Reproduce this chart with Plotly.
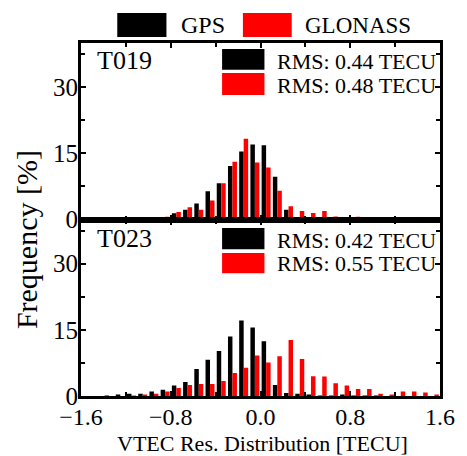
import plotly.graph_objects as go
from plotly.subplots import make_subplots

# ---------------- data ----------------
bins = [-1.55, -1.45, -1.35, -1.25, -1.15, -1.05, -0.95, -0.85, -0.75, -0.65,
        -0.55, -0.45, -0.35, -0.25, -0.15, -0.05, 0.05, 0.15, 0.25, 0.35,
        0.45, 0.55, 0.65, 0.75, 0.85, 0.95, 1.05, 1.15, 1.25, 1.35, 1.45, 1.55]

t019_gps = [0, 0, 0, 0.05, 0.1, 0.1, 0.2, 0.5, 1.4, 2.2,
            3.6, 6.4, 8.2, 12.1, 15.4, 17.0, 16.8, 9.7, 2.2, 0.3,
            0.1, 0.05, 0, 0, 0, 0, 0, 0, 0, 0, 0, 0]
t019_glonass = [0, 0, 0.05, 0.1, 0.2, 0.3, 0.3, 0.6, 1.7, 2.8,
                2.2, 4.3, 8.2, 13.1, 18.3, 12.9, 11.8, 6.5, 3.0, 1.9,
                1.5, 1.9, 0.7, 0.4, 0.6, 0.5, 0.3, 0.1, 0.05, 0, 0, 0]

t023_gps = [0, 0, 0.1, 0.2, 0.5, 0.5, 1.0, 1.4, 2.4, 3.2,
            6.1, 8.2, 10.2, 13.5, 17.1, 15.5, 12.4, 2.5, 0.7, 0.5,
            0.3, 0.1, 0.1, 0.2, 0.1, 0.05, 0.05, 0, 0, 0, 0, 0]
t023_glonass = [0, 0, 0, 0, 0.1, 0.2, 0.5, 1.0, 1.8, 2.5,
                2.7, 2.7, 3.4, 5.2, 6.4, 9.2, 7.6, 9.0, 12.7, 8.4,
                4.5, 4.4, 2.9, 2.4, 1.6, 1.6, 0.5, 0.3, 1.0, 1.0, 0.8, 0.3]

stations = ["T019", "T023"]
rms_gps = ["RMS: 0.44 TECU", "RMS: 0.42 TECU"]
rms_glonass = ["RMS: 0.48 TECU", "RMS: 0.55 TECU"]
series_names = ["GPS", "GLONASS"]
colors = ["#000000", "#FF0000"]

x_ticks = [-1.6, -0.8, 0.0, 0.8, 1.6]
x_ticklabels = ["\u22121.6", "\u22120.8", "0.0", "0.8", "1.6"]
y_ticks = [0, 15, 30]

FONT = "Liberation Serif"

# ---------------- figure ----------------
fig = make_subplots(rows=2, cols=1, shared_xaxes=False, vertical_spacing=0)

panels = [(t019_gps, t019_glonass), (t023_gps, t023_glonass)]
for r, (g, gl) in enumerate(panels, start=1):
    fig.add_trace(go.Bar(x=bins, y=g, name=series_names[0],
                         marker=dict(color=colors[0], line=dict(width=0)),
                         showlegend=False), row=r, col=1)
    fig.add_trace(go.Bar(x=bins, y=gl, name=series_names[1],
                         marker=dict(color=colors[1], line=dict(width=0)),
                         showlegend=False), row=r, col=1)

axis_common = dict(showline=True, linewidth=3, linecolor="black", mirror="allticks",
                   ticks="inside", tickwidth=2, tickcolor="black",
                   showgrid=False, zeroline=False)

for r in (1, 2):
    fig.update_xaxes(range=[-1.6, 1.6], tickvals=x_ticks, ticktext=x_ticklabels,
                     ticklen=5, showticklabels=(r == 2), ticklabelstandoff=-3,
                     tickfont=dict(family=FONT, size=24, color="black"),
                     minor=dict(dtick=0.4, tick0=-1.6, ticks="inside", ticklen=4,
                                tickwidth=2, tickcolor="black"),
                     row=r, col=1, **axis_common)
    fig.update_yaxes(range=[0, 40], tickvals=y_ticks, ticklen=5, ticklabelstandoff=-5,
                     tickfont=dict(family=FONT, size=25, color="black"),
                     minor=dict(dtick=7.5, tick0=0, ticks="inside", ticklen=4,
                                tickwidth=2, tickcolor="black"),
                     row=r, col=1, **axis_common)

shapes = []
annotations = []

# top legend (GPS / GLONASS)
shapes.append(dict(type="rect", xref="paper", yref="paper", x0=0.101, x1=0.238,
                   y0=1.017, y1=1.085, fillcolor=colors[0], line=dict(width=0)))
shapes.append(dict(type="rect", xref="paper", yref="paper", x0=0.451, x1=0.587,
                   y0=1.017, y1=1.085, fillcolor=colors[1], line=dict(width=0)))
annotations.append(dict(text=series_names[0], xref="paper", yref="paper", x=0.272, y=1.05,
                        xanchor="left", yanchor="middle", showarrow=False,
                        font=dict(family=FONT, size=24, color="black")))
annotations.append(dict(text=series_names[1], xref="paper", yref="paper", x=0.619, y=1.05,
                        xanchor="left", yanchor="middle", showarrow=False,
                        font=dict(family=FONT, size=23, color="black")))

# in-panel legends
panel_pos = [
    dict(b1=(0.924, 0.983), b2=(0.853, 0.915), t1=0.947, t2=0.881, st=0.950),
    dict(b1=(0.416, 0.476), b2=(0.348, 0.405), t1=0.440, t2=0.376, st=0.447),
]
for i, p in enumerate(panel_pos):
    shapes.append(dict(type="rect", xref="paper", yref="paper", x0=0.393, x1=0.511,
                       y0=p["b1"][0], y1=p["b1"][1], fillcolor=colors[0], line=dict(width=0)))
    shapes.append(dict(type="rect", xref="paper", yref="paper", x0=0.393, x1=0.511,
                       y0=p["b2"][0], y1=p["b2"][1], fillcolor=colors[1], line=dict(width=0)))
    annotations.append(dict(text=rms_gps[i], xref="paper", yref="paper", x=0.540, y=p["t1"],
                            xanchor="left", yanchor="middle", showarrow=False,
                            font=dict(family=FONT, size=22, color="black")))
    annotations.append(dict(text=rms_glonass[i], xref="paper", yref="paper", x=0.540, y=p["t2"],
                            xanchor="left", yanchor="middle", showarrow=False,
                            font=dict(family=FONT, size=22, color="black")))
    annotations.append(dict(text=stations[i], xref="paper", yref="paper", x=0.040, y=p["st"],
                            xanchor="left", yanchor="middle", showarrow=False,
                            font=dict(family=FONT, size=26, color="black")))

# axis titles
annotations.append(dict(text="Frequency [%]", xref="paper", yref="paper", x=-0.15, y=0.442,
                        xanchor="center", yanchor="middle", textangle=-90, showarrow=False,
                        font=dict(family=FONT, size=30, color="black")))
annotations.append(dict(text="VTEC Res. Distribution [TECU]", xref="paper", yref="paper",
                        x=0.505, y=-0.134, xanchor="center", yanchor="middle", showarrow=False,
                        font=dict(family=FONT, size=22, color="black")))

# page body adds an 8px offset, so the figure is drawn 8px smaller with shifted margins
fig.update_layout(
    width=459, height=448,
    margin=dict(l=73, r=20, t=35, b=60),
    barmode="group", bargap=0.2, bargroupgap=0,
    plot_bgcolor="white", paper_bgcolor="white",
    showlegend=False,
    shapes=shapes, annotations=annotations,
    font=dict(family=FONT, color="black"),
)

fig.write_html("out.html")
